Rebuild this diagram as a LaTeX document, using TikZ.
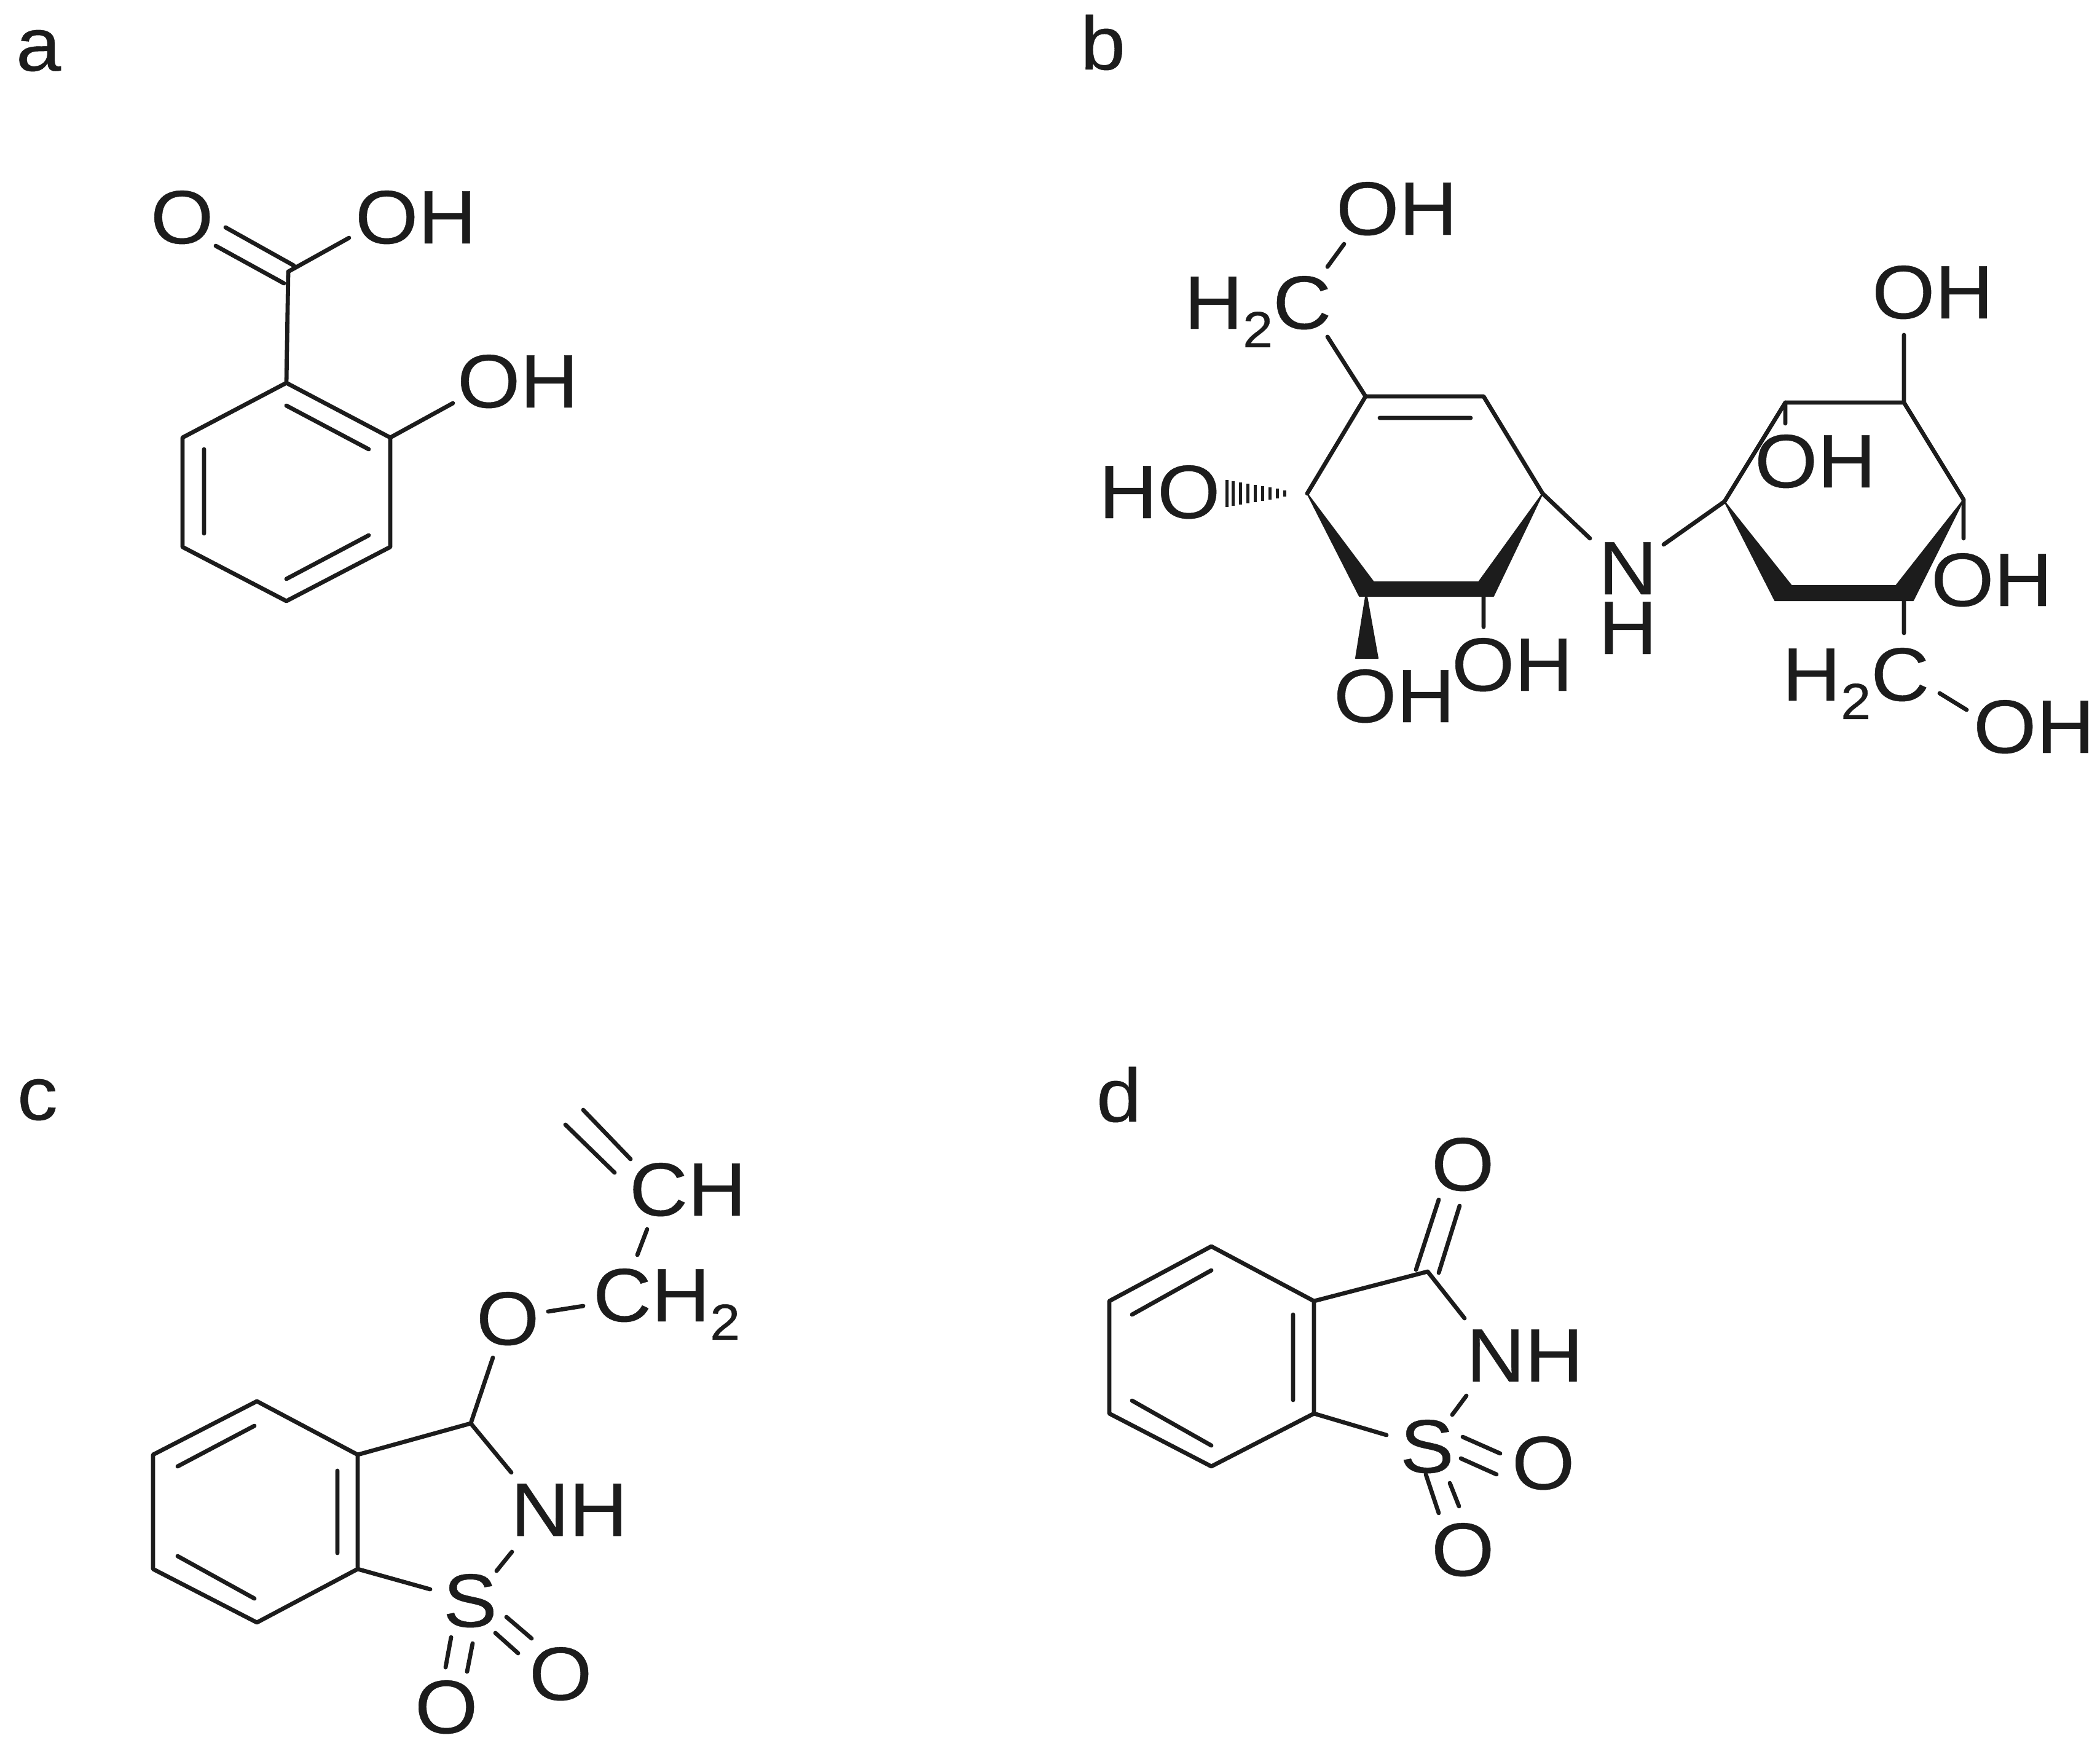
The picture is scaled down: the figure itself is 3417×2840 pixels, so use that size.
\documentclass[tikz,border=0pt]{standalone}
\usepackage{fontspec}
\setmainfont{Liberation Sans}[FakeStretch=1.07,FakeBold=0.35]
\definecolor{ink}{HTML}{1C1C1C}
\newcommand{\chemsub}{\raisebox{-8.5pt}{\fontsize{23.5pt}{26pt}\selectfont 2}}
\tikzset{
  atom/.style={anchor=base west,inner sep=0pt,outer sep=0pt,text=ink,font=\fontsize{35pt}{42pt}\selectfont},
  panel/.style={anchor=base west,inner sep=0pt,outer sep=0pt,text=ink,font=\fontsize{35pt}{42pt}\selectfont},
  bond/.style={draw=ink,line width=0.68mm,line cap=round,line join=round},
  wedge/.style={fill=ink,draw=ink,line width=0.2mm,line join=round},
  hash/.style={draw=ink,line width=0.5mm}
}
\begin{document}
\begin{tikzpicture}[x=0.1mm,y=-0.1mm]
\useasboundingbox (0,0) rectangle (3417,2840);
\fill[white] (0,0) rectangle (3417,2840);

% panel letters
\node[panel] (la) at (26,115) {a};
\node[panel] (lb) at (1758,113) {b};
\node[panel] (lc) at (28,1822) {c};
\node[panel] (ld) at (1784,1825) {d};

% ---------- panel a ----------
\node[atom] (aO) at (245,396) {O};
\node[atom] (aOH1) at (578,396) {OH};
\node[atom] (aOH2) at (744,663) {OH};
\coordinate (a1) at (466,623);
\coordinate (a2) at (635,712);
\coordinate (a3) at (635,890);
\coordinate (a4) at (466,978);
\coordinate (a5) at (297,890);
\coordinate (a6) at (297,712);
\coordinate (aC) at (469,442);
\coordinate (ai1) at (466,660); \coordinate (ai2) at (600,731);
\coordinate (ai3) at (332,731); \coordinate (ai4) at (332,868);
\coordinate (ai5) at (466,942); \coordinate (ai6) at (600,871);
\coordinate (ad1) at (367,370); \coordinate (ad2) at (478,432);
\coordinate (ad3) at (351,400); \coordinate (ad4) at (462,461);
\coordinate (ah1) at (568,387); \coordinate (ah2) at (737,656);
\draw[bond] (a1)--(a2)--(a3)--(a4)--(a5)--(a6)--cycle;
\draw[bond] (ai1)--(ai2) (ai3)--(ai4) (ai5)--(ai6);
\draw[bond] (a1)--(aC) (ad1)--(ad2) (ad3)--(ad4) (aC)--(ah1) (a2)--(ah2);

% ---------- panel b, left ring ----------
\node[atom] (bOH1) at (2174,382) {OH};
\node[atom] (bCH1) at (1927,535) {H\chemsub C};
\node[atom] (bHO) at (1788,843) {HO};
\node[atom] (bOH2) at (2362,1124) {OH};
\node[atom] (bOH3) at (2170,1175) {OH};
\node[atom] (bN) at (2601,967) {N};
\node[atom] (bH) at (2601,1064) {H};
\coordinate (A1) at (2222,645);
\coordinate (A2) at (2414,645);
\coordinate (A3) at (2510,803);
\coordinate (A6) at (2127,803);
\coordinate (Ad1) at (2245,680); \coordinate (Ad2) at (2393,680);
\coordinate (Ae1) at (2160,434); \coordinate (Ae2) at (2187,397);
\coordinate (Ae3) at (2160,548);
\coordinate (An1) at (2587,876);
\coordinate (Ao1) at (2414,965); \coordinate (Ao2) at (2414,1020);
\draw[bond] (A6)--(A1)--(A2)--(A3);
\draw[bond] (Ad1)--(Ad2) (Ae1)--(Ae2) (Ae3)--(A1) (A3)--(An1) (Ao1)--(Ao2);
\fill[wedge] (A6)--(2235,947)--(2406,947)--(A3)--(2430,970)--(2212,970)--cycle;
\fill[wedge] (2223,965)--(2242,1071)--(2206,1071)--cycle;
\foreach \x/\h in {2090/5,2078/8,2066/10,2054/12,2042/14,2030/16,2018/18,2006/20,1996/22}
  \draw[hash] (\x,803-\h)--(\x,803+\h);

% ---------- panel b, right ring ----------
\node[atom] (bOH4) at (3046,518) {OH};
\node[atom] (bOH5) at (2855,793) {OH};
\node[atom] (bOH6) at (3142,986) {OH};
\node[atom] (bCH2) at (2900,1140) {H\chemsub C};
\node[atom] (bOH7) at (3211,1225) {OH};
\coordinate (B1) at (2806,816);
\coordinate (B2) at (2905,655);
\coordinate (B3) at (3098,655);
\coordinate (B4) at (3195,813);
\coordinate (Bn) at (2707,886);
\coordinate (Bs1) at (3098,545);
\coordinate (Bs2) at (2905,689);
\coordinate (Bs3) at (3195,876);
\coordinate (Bs4) at (3098,970); \coordinate (Bs5) at (3098,1030);
\coordinate (Bs6) at (3156,1128); \coordinate (Bs7) at (3200,1155);
\draw[bond] (B1)--(B2)--(B3)--(B4);
\draw[bond] (Bn)--(B1) (B3)--(Bs1) (B2)--(Bs2) (B4)--(Bs3) (Bs4)--(Bs5) (Bs6)--(Bs7);
\fill[wedge] (B1)--(2915,953)--(3085,953)--(B4)--(3113,977)--(2888,977)--cycle;

% ---------- panel c ----------
\node[atom] (cO) at (775,2188) {O};
\node[atom] (cCH2) at (965,2150) {CH\chemsub};
\node[atom] (cCH) at (1024,1978) {CH};
\node[atom] (cNH) at (831,2499) {NH};
\node[atom] (cS) at (721,2647) {S};
\node[atom] (cO2) at (861,2766) {O};
\node[atom] (cO3) at (675,2820) {O};
\coordinate (c1) at (418,2280);
\coordinate (c2) at (582,2367);
\coordinate (c3) at (582,2553);
\coordinate (c4) at (418,2640);
\coordinate (c5) at (249,2553);
\coordinate (c6) at (249,2367);
\coordinate (cX) at (766,2316);
\coordinate (ci1) at (414,2320); \coordinate (ci2) at (289,2386);
\coordinate (ci3) at (549,2393); \coordinate (ci4) at (549,2527);
\coordinate (ci5) at (414,2601); \coordinate (ci6) at (289,2532);
\coordinate (ce1) at (832,2396); \coordinate (ce2) at (802,2209);
\coordinate (ce3) at (892,2134); \coordinate (ce4) at (949,2125);
\coordinate (ce5) at (1037,2042); \coordinate (ce6) at (1053,2000);
\coordinate (cd1) at (949,1806); \coordinate (cd2) at (1026,1886);
\coordinate (cd3) at (920,1830); \coordinate (cd4) at (1000,1908);
\coordinate (ce7) at (833,2525); \coordinate (ce8) at (808,2556);
\coordinate (ce9) at (700,2586);
\coordinate (cs1) at (824,2631); \coordinate (cs2) at (865,2666);
\coordinate (cs3) at (806,2657); \coordinate (cs4) at (843,2690);
\coordinate (cs5) at (734,2664); \coordinate (cs6) at (725,2713);
\coordinate (cs7) at (769,2674); \coordinate (cs8) at (760,2720);
\draw[bond] (c1)--(c2)--(c3)--(c4)--(c5)--(c6)--cycle;
\draw[bond] (ci1)--(ci2) (ci3)--(ci4) (ci5)--(ci6);
\draw[bond] (c2)--(cX)--(ce1) (cX)--(ce2) (ce3)--(ce4) (ce5)--(ce6);
\draw[bond] (cd1)--(cd2) (cd3)--(cd4) (ce7)--(ce8) (c3)--(ce9);
\draw[bond] (cs1)--(cs2) (cs3)--(cs4) (cs5)--(cs6) (cs7)--(cs8);

% ---------- panel d ----------
\node[atom] (dO1) at (2329,1937) {O};
\node[atom] (dNH) at (2386,2248) {NH};
\node[atom] (dS) at (2278,2396) {S};
\node[atom] (dO2) at (2460,2423) {O};
\node[atom] (dO3) at (2329,2564) {O};
\coordinate (d1) at (1971,2028);
\coordinate (d2) at (2138,2117);
\coordinate (d3) at (2138,2300);
\coordinate (d4) at (1971,2386);
\coordinate (d5) at (1805,2300);
\coordinate (d6) at (1805,2117);
\coordinate (dC) at (2323,2069);
\coordinate (di1) at (1971,2067); \coordinate (di2) at (1842,2139);
\coordinate (di3) at (2104,2139); \coordinate (di4) at (2104,2278);
\coordinate (di5) at (1971,2352); \coordinate (di6) at (1842,2279);
\coordinate (de1) at (2383,2145);
\coordinate (dd1) at (2304,2066); \coordinate (dd2) at (2341,1952);
\coordinate (dd3) at (2341,2071); \coordinate (dd4) at (2375,1962);
\coordinate (de2) at (2386,2271); \coordinate (de3) at (2363,2302);
\coordinate (de4) at (2256,2335);
\coordinate (ds1) at (2380,2338); \coordinate (ds2) at (2441,2365);
\coordinate (ds3) at (2377,2373); \coordinate (ds4) at (2435,2399);
\coordinate (ds5) at (2320,2399); \coordinate (ds6) at (2341,2462);
\coordinate (ds7) at (2359,2413); \coordinate (ds8) at (2374,2451);
\draw[bond] (d1)--(d2)--(d3)--(d4)--(d5)--(d6)--cycle;
\draw[bond] (di1)--(di2) (di3)--(di4) (di5)--(di6);
\draw[bond] (d2)--(dC)--(de1) (dd1)--(dd2) (dd3)--(dd4);
\draw[bond] (de2)--(de3) (d3)--(de4);
\draw[bond] (ds1)--(ds2) (ds3)--(ds4) (ds5)--(ds6) (ds7)--(ds8);
\end{tikzpicture}
\end{document}
